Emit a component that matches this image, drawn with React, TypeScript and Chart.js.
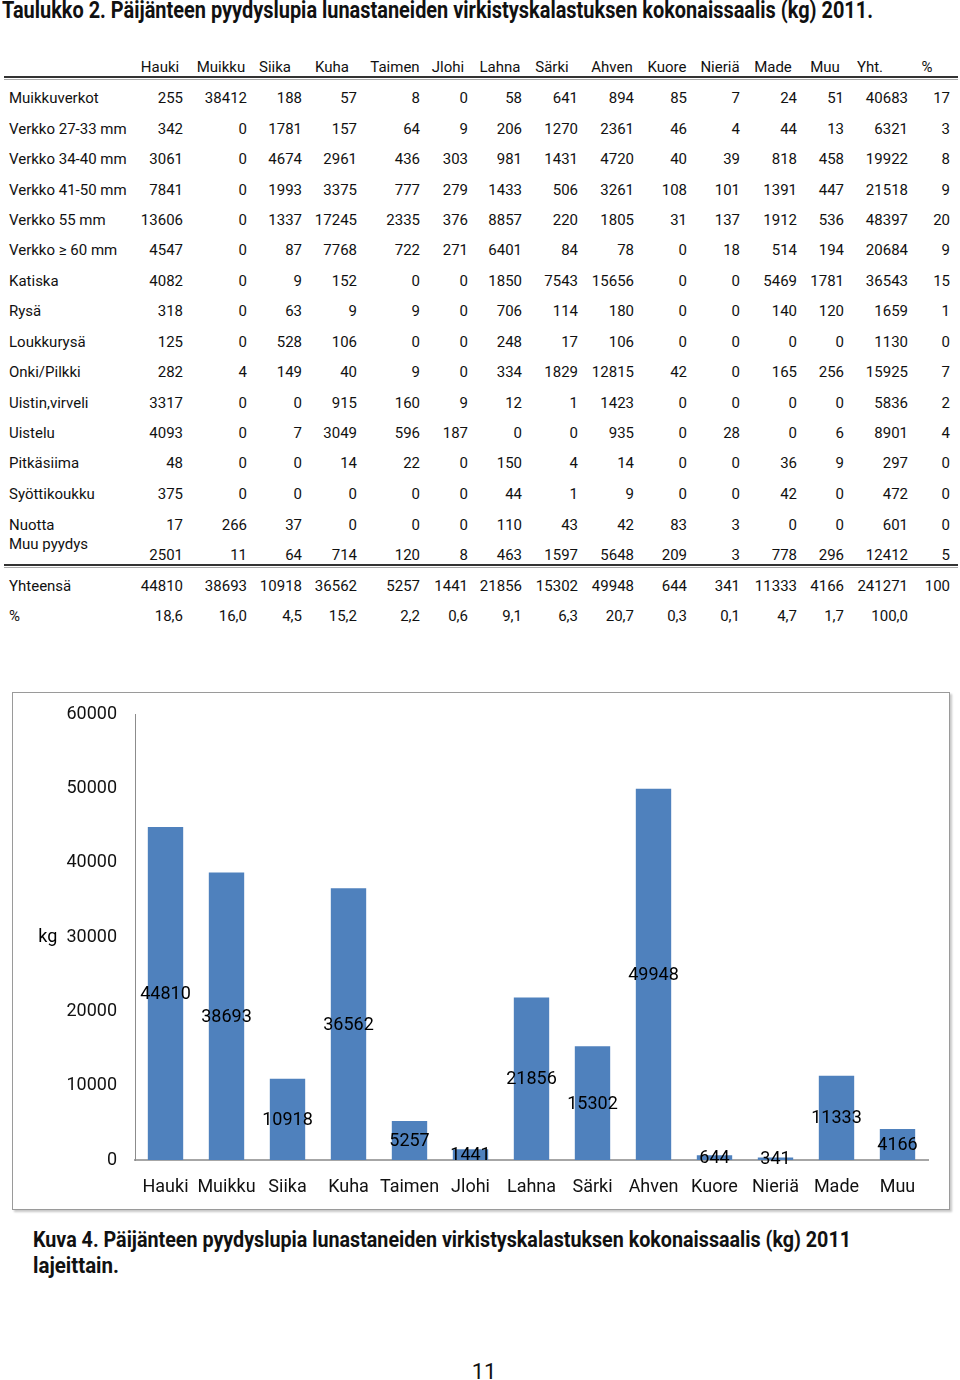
import React, { useEffect, useLayoutEffect, useRef } from "react";
import { Chart, registerables } from "chart.js";
Chart.register(...registerables);

// ---------- DATA ----------
const species = ["Hauki", "Muikku", "Siika", "Kuha", "Taimen", "Jlohi", "Lahna", "Särki", "Ahven", "Kuore", "Nieriä", "Made", "Muu"];
const tableHeaders = [...species, "Yht.", "%"];

const gearLabels = [
  "Muikkuverkot", "Verkko 27-33 mm", "Verkko 34-40 mm", "Verkko 41-50 mm", "Verkko 55 mm",
  "Verkko ≥ 60 mm", "Katiska", "Rysä", "Loukkurysä", "Onki/Pilkki", "Uistin,virveli",
  "Uistelu", "Pitkäsiima", "Syöttikoukku", "Nuotta", "Muu pyydys",
];

const muikkuverkot = [255, 38412, 188, 57, 8, 0, 58, 641, 894, 85, 7, 24, 51, 40683, 17];
const verkko2733 = [342, 0, 1781, 157, 64, 9, 206, 1270, 2361, 46, 4, 44, 13, 6321, 3];
const verkko3440 = [3061, 0, 4674, 2961, 436, 303, 981, 1431, 4720, 40, 39, 818, 458, 19922, 8];
const verkko4150 = [7841, 0, 1993, 3375, 777, 279, 1433, 506, 3261, 108, 101, 1391, 447, 21518, 9];
const verkko55 = [13606, 0, 1337, 17245, 2335, 376, 8857, 220, 1805, 31, 137, 1912, 536, 48397, 20];
const verkko60 = [4547, 0, 87, 7768, 722, 271, 6401, 84, 78, 0, 18, 514, 194, 20684, 9];
const katiska = [4082, 0, 9, 152, 0, 0, 1850, 7543, 15656, 0, 0, 5469, 1781, 36543, 15];
const rysa = [318, 0, 63, 9, 9, 0, 706, 114, 180, 0, 0, 140, 120, 1659, 1];
const loukkurysa = [125, 0, 528, 106, 0, 0, 248, 17, 106, 0, 0, 0, 0, 1130, 0];
const onkiPilkki = [282, 4, 149, 40, 9, 0, 334, 1829, 12815, 42, 0, 165, 256, 15925, 7];
const uistinVirveli = [3317, 0, 0, 915, 160, 9, 12, 1, 1423, 0, 0, 0, 0, 5836, 2];
const uistelu = [4093, 0, 7, 3049, 596, 187, 0, 0, 935, 0, 28, 0, 6, 8901, 4];
const pitkasiima = [48, 0, 0, 14, 22, 0, 150, 4, 14, 0, 0, 36, 9, 297, 0];
const syottikoukku = [375, 0, 0, 0, 0, 0, 44, 1, 9, 0, 0, 42, 0, 472, 0];
const nuotta = [17, 266, 37, 0, 0, 0, 110, 43, 42, 83, 3, 0, 0, 601, 0];
const muuPyydys = [2501, 11, 64, 714, 120, 8, 463, 1597, 5648, 209, 3, 778, 296, 12412, 5];

const totals = [44810, 38693, 10918, 36562, 5257, 1441, 21856, 15302, 49948, 644, 341, 11333, 4166, 241271, 100];
const percents = ["18,6", "16,0", "4,5", "15,2", "2,2", "0,6", "9,1", "6,3", "20,7", "0,3", "0,1", "4,7", "1,7", "100,0", ""];

const chartValues = [44810, 38693, 10918, 36562, 5257, 1441, 21856, 15302, 49948, 644, 341, 11333, 4166];
const yMax = 60000;
const yStep = 10000;
const yAxisLabel = "kg";

const titleText = "Taulukko 2. Päijänteen pyydyslupia lunastaneiden virkistyskalastuksen kokonaissaalis (kg) 2011.";
const captionLine1 = "Kuva 4. Päijänteen pyydyslupia lunastaneiden virkistyskalastuksen kokonaissaalis (kg) 2011";
const captionLine2 = "lajeittain.";
const pageNumber = "11";

// ---------- LAYOUT ----------
const colRight = [183, 247, 302, 357, 420, 468, 522, 578, 634, 687, 740, 797, 844, 908, 950];
const headerCenter = [160, 221, 275, 332, 395, 448, 500, 552, 612, 667, 720, 773, 825, 870, 927];
const rowY = [98, 129, 159, 190, 220, 250, 281, 311, 342, 372, 403, 433, 463, 494, 525, 555];
const labelY = [98, 129, 159, 190, 220, 250, 281, 311, 342, 372, 403, 433, 463, 494, 525, 544];
const gearRows = [muikkuverkot, verkko2733, verkko3440, verkko4150, verkko55, verkko60, katiska, rysa,
  loukkurysa, onkiPilkki, uistinVirveli, uistelu, pitkasiima, syottikoukku, nuotta, muuPyydys];

const FONT = "Roboto, 'Open Sans', sans-serif";
const TFS = 15;

function FitText(props: { text: string; x: number; y: number; width: number; size: number; bold?: boolean }) {
  const ref = useRef<HTMLSpanElement>(null);
  useLayoutEffect(() => {
    const el = ref.current;
    if (!el) return;
    el.style.transform = "none";
    const w = el.getBoundingClientRect().width;
    if (w > 0) el.style.transform = `scaleX(${props.width / w})`;
  }, [props.text, props.width]);
  return (
    <span
      ref={ref}
      style={{
        position: "absolute", left: props.x, top: props.y, whiteSpace: "nowrap",
        fontFamily: FONT, fontSize: props.size, fontWeight: props.bold ? 700 : 400,
        transformOrigin: "0 0", color: "#111", lineHeight: 1,
      }}
    >
      {props.text}
    </span>
  );
}

function Cell(props: { text: string; right?: number; center?: number; left?: number; y: number }) {
  const style: React.CSSProperties = {
    position: "absolute", top: props.y - 10, height: 20, lineHeight: "20px",
    fontFamily: FONT, fontSize: TFS, color: "#111", whiteSpace: "nowrap",
  };
  if (props.right !== undefined) {
    style.left = props.right - 200; style.width = 200; style.textAlign = "right";
  } else if (props.center !== undefined) {
    style.left = props.center - 100; style.width = 200; style.textAlign = "center";
  } else {
    style.left = props.left;
  }
  return <div style={style}>{props.text}</div>;
}

function BarChart() {
  const canvasRef = useRef<HTMLCanvasElement>(null);
  useEffect(() => {
    const canvas = canvasRef.current;
    if (!canvas) return;
    const valueLabels = {
      id: "valueLabels",
      afterDatasetsDraw(chart: any) {
        const ctx = chart.ctx;
        const meta = chart.getDatasetMeta(0);
        ctx.save();
        ctx.font = `18px ${FONT}`;
        ctx.fillStyle = "#000";
        ctx.textAlign = "center";
        ctx.textBaseline = "middle";
        meta.data.forEach((bar: any, i: number) => {
          const v = chart.data.datasets[0].data[i];
          ctx.fillText(String(v), bar.x, (bar.y + bar.base) / 2 + 1);
        });
        // axis label "kg"
        const ys = chart.scales.y;
        const tw = ctx.measureText(String(3 * yStep)).width;
        ctx.textAlign = "right";
        ctx.fillText(yAxisLabel, chart.chartArea.left - 18 - tw - 9, ys.getPixelForValue(3 * yStep));
        ctx.restore();
      },
    };
    const chart = new Chart(canvas, {
      type: "bar",
      data: {
        labels: species,
        datasets: [{
          data: chartValues,
          backgroundColor: "#4F81BD",
          borderWidth: 0,
          categoryPercentage: 1,
          barPercentage: 0.58,
        }],
      },
      options: {
        animation: false,
        responsive: false,
        maintainAspectRatio: false,
        layout: { padding: { top: 21, right: 21, left: 0, bottom: 0 } },
        plugins: { legend: { display: false }, tooltip: { enabled: false }, title: { display: false } },
        scales: {
          x: {
            grid: { display: false, drawTicks: false },
            border: { display: true, color: "#a6a6a6", width: 2 },
            ticks: { color: "#111", font: { family: FONT, size: 18 }, padding: 17, maxRotation: 0, autoSkip: false },
            afterFit(scale: any) { scale.height = 49; },
          },
          y: {
            min: 0, max: yMax,
            grid: { display: false, drawTicks: false },
            border: { display: true, color: "#8c8c8c", width: 1 },
            ticks: {
              stepSize: yStep, color: "#111", font: { family: FONT, size: 18 }, padding: 18,
              callback: (v: any) => String(v),
            },
            afterFit(scale: any) { scale.width = 122; scale.paddingTop = 0; scale.paddingBottom = 0; },
          },
        },
      },
      plugins: [valueLabels],
    } as any);
    return () => chart.destroy();
  }, []);
  return (
    <div style={{
      position: "absolute", left: 12, top: 692, width: 938, height: 518, boxSizing: "border-box",
      border: "1px solid #9a9a9a", boxShadow: "2px 2px 2px #c8c8c8", background: "#fff",
    }}>
      <canvas ref={canvasRef} width={936} height={516} style={{ display: "block", width: 936, height: 516 }} />
    </div>
  );
}

export default function App() {
  return (
    <div style={{ position: "absolute", left: 0, top: 0, width: 960, height: 1380, background: "#fff", overflow: "hidden" }}>
      <FitText text={titleText} x={2} y={-1} width={871} size={23} bold />

      {tableHeaders.map((h, i) => <Cell key={"h" + i} text={h} center={headerCenter[i]} y={67} />)}
      <div style={{ position: "absolute", left: 4, top: 76, width: 954, height: 2, background: "#333" }} />
      <div style={{ position: "absolute", left: 4, top: 79, width: 954, height: 1, background: "#aaa" }} />

      {gearLabels.map((g, r) => <Cell key={"g" + r} text={g} left={9} y={labelY[r]} />)}
      {gearRows.map((row, r) => row.map((v, c) => (
        <Cell key={`c${r}-${c}`} text={String(v)} right={colRight[c]} y={rowY[r]} />
      )))}

      <div style={{ position: "absolute", left: 4, top: 564, width: 954, height: 2, background: "#333" }} />
      <div style={{ position: "absolute", left: 4, top: 567, width: 954, height: 1, background: "#aaa" }} />

      <Cell text="Yhteensä" left={9} y={586} />
      {totals.map((v, c) => <Cell key={"t" + c} text={String(v)} right={colRight[c]} y={586} />)}
      <Cell text="%" left={9} y={616} />
      {percents.map((v, c) => <Cell key={"p" + c} text={v} right={colRight[c]} y={616} />)}

      <BarChart />

      <FitText text={captionLine1} x={33} y={1229} width={818} size={22} bold />
      <FitText text={captionLine2} x={33} y={1255} width={86} size={22} bold />
      <div style={{ position: "absolute", left: 434, width: 100, top: 1359, textAlign: "center", fontFamily: FONT, fontSize: 22, color: "#111" }}>{pageNumber}</div>
    </div>
  );
}
